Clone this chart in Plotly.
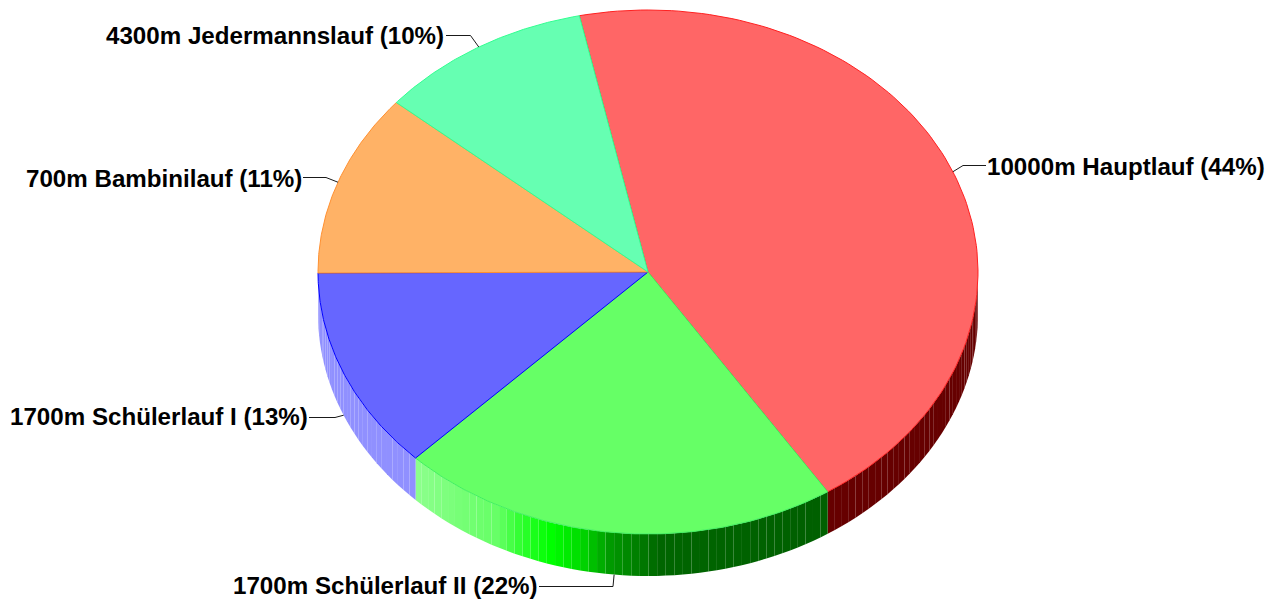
import numpy as np
import plotly.graph_objects as go

# --- data ---
categories = ["10000m Hauptlauf", "1700m Schülerlauf II", "1700m Schülerlauf I",
              "700m Bambinilauf", "4300m Jedermannslauf"]
values = [44.17, 21.6, 12.5, 11.26, 10.47]
percent_labels = ["44%", "22%", "13%", "11%", "10%"]

# --- styles ---
top_colors = ["#ff6666", "#66ff66", "#6666ff", "#ffb266", "#66ffb2"]
edge_colors = ["#ff2020", "#40f060", "#0000ff", "#ff9030", "#30ff90"]
START = -12.0
CX, CY, RX, RY, DEPTH = 648, 272, 330, 262, 42
label_sides = ["left", "right", "right", "right", "right"]
label_anchor_x = [985, 540, 310, 304, 446]
label_y = [166, 585, 416, 178, 35]
leader_start_x = [986, 539, 309, 303, 446]
leader_knee_x = [963, 613, 335, 326, 470.5]
leader_y = [165.5, 586.5, 417.5, 177.5, 35.5]
STEP = 1.5


def pt(a, dz=0):
    a = np.radians(a)
    return CX + RX * np.sin(a), CY - RY * np.cos(a) + dz


def lerp_hex(stops, t):
    xs = [s[0] for s in stops]
    ch = [np.interp(t, xs, [int(s[1][i:i + 2], 16) for s in stops]) for i in (1, 3, 5)]
    return "rgb(%d,%d,%d)" % tuple(ch)


def side_color(i, ang):
    if i == 0:
        return "#660000"
    if i == 2:
        return "#9090ff"
    # green: pale at the left, saturated, then dark going towards the right
    return lerp_hex([(150, "#006000"), (178, "#006600"), (182, "#008000"), (186.5, "#009900"),
                     (192, "#00dd00"), (197, "#00ff00"), (203, "#33ff33"), (207, "#66ff66"),
                     (224, "#8cff8c")], ang)


fig = go.Figure()
total = sum(values)
spans = [v / total * 360 for v in values]
edges = [START + sum(spans[:i]) for i in range(len(spans) + 1)]

# side wall (only the near half of the disc)
for i, (a0, a1) in enumerate(zip(edges[:-1], edges[1:])):
    lo, hi = max(a0, 90), min(a1, 270)
    if lo >= hi:
        continue
    n = max(1, int(round((hi - lo) / STEP)))
    grid = np.linspace(lo, hi, n + 1)
    for s0, s1 in zip(grid[:-1], grid[1:]):
        xa, ya = pt(s0)
        xb, yb = pt(s1)
        xc, yc = pt(s1, DEPTH)
        xd, yd = pt(s0, DEPTH)
        fig.add_trace(go.Scatter(x=[xa, xb, xc, xd, xa], y=[ya, yb, yc, yd, ya], mode="lines",
                                 fill="toself", fillcolor=side_color(i, (s0 + s1) / 2),
                                 line=dict(width=0), hoverinfo="skip", showlegend=False))

# top face
for i, (a0, a1) in enumerate(zip(edges[:-1], edges[1:])):
    arc = np.linspace(a0, a1, 120)
    xs, ys = pt(arc)
    fig.add_trace(go.Scatter(x=[CX, *xs, CX], y=[CY, *ys, CY], mode="lines", fill="toself",
                             fillcolor=top_colors[i], line=dict(color=edge_colors[i], width=1),
                             name=categories[i], showlegend=False))

# leader lines and labels
for i, (a0, a1) in enumerate(zip(edges[:-1], edges[1:])):
    mid = (a0 + a1) / 2
    ex, ey = pt(mid, DEPTH if 170 < mid < 270 else 0)
    fig.add_trace(go.Scatter(x=[leader_start_x[i], leader_knee_x[i], ex],
                             y=[leader_y[i], leader_y[i], ey], mode="lines",
                             line=dict(color="#1a1a1a", width=1), hoverinfo="skip", showlegend=False))
    fig.add_annotation(x=label_anchor_x[i], y=label_y[i], xref="x", yref="y", showarrow=False,
                       text=f"<b>{categories[i]} ({percent_labels[i]})</b>",
                       xanchor=label_sides[i], yanchor="middle",
                       font=dict(family="Liberation Sans", size=24.15, color="#000000"))

fig.update_layout(width=1282, height=602, margin=dict(l=0, r=0, t=0, b=0), autosize=False,
                  plot_bgcolor="white", paper_bgcolor="white", showlegend=False,
                  xaxis=dict(visible=False, range=[0, 1282], fixedrange=True),
                  yaxis=dict(visible=False, range=[602, 0], fixedrange=True))
fig.write_html("out.html", config={"displayModeBar": False},
               post_script="document.body.style.margin='0';document.body.style.overflow='hidden';")
